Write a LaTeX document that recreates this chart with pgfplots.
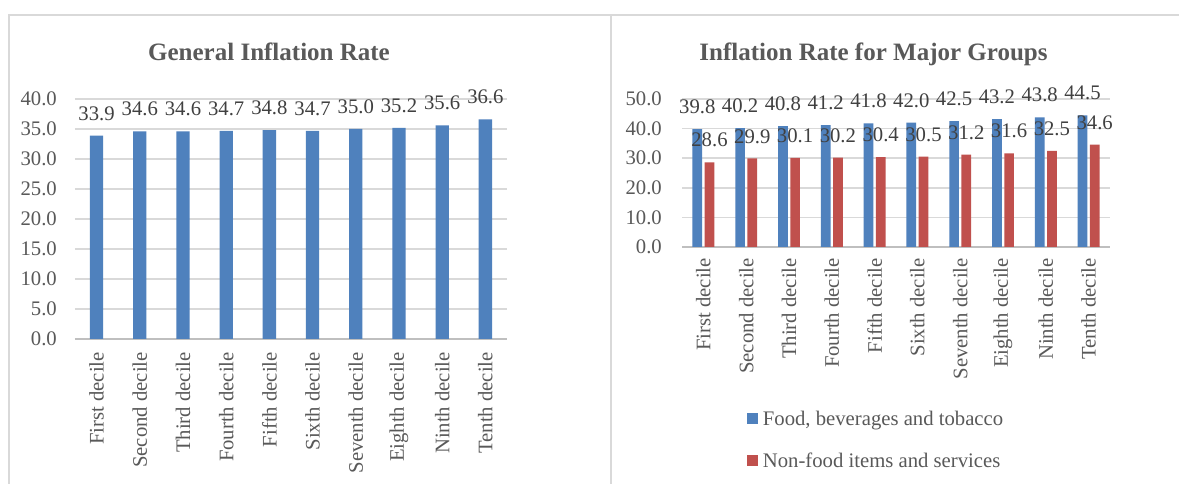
\documentclass[border=0pt]{standalone}
\usepackage{pgfplots}
\pgfplotsset{compat=1.18}
\usepackage{fontspec}
\setmainfont{Liberation Serif}
\definecolor{barblue}{HTML}{4F81BD}
\definecolor{barred}{HTML}{C0504D}
\definecolor{txtgray}{HTML}{595959}
\definecolor{lblgray}{HTML}{404040}
\definecolor{gridgray}{HTML}{D9D9D9}
\definecolor{axgray}{HTML}{BFBFBF}
\definecolor{border}{HTML}{D9D9D9}
\newcommand{\MainFont}{\fontsize{20.7}{24}\selectfont}
\newcommand{\TitleFont}{\fontsize{25}{30}\selectfont\bfseries}
\pgfplotsset{
  infl/.style={
    scale only axis,
    anchor=south west,
    xmin=-0.5, xmax=9.5,
    ymin=0,
    xtick={0,...,9},
    xticklabels={First decile,Second decile,Third decile,Fourth decile,Fifth decile,Sixth decile,Seventh decile,Eighth decile,Ninth decile,Tenth decile},
    ymajorgrids,
    grid style={gridgray, line width=1.6pt},
    axis x line=bottom,
    axis y line=left,
    axis line style={-},
    x axis line style={axgray, line width=1.6pt},
    y axis line style={draw=none},
    major tick length=0pt,
    tick label style={font=\MainFont, text=txtgray},
    /pgf/number format/assume math mode=true,
    yticklabel style={anchor=east, inner sep=0pt, /pgf/number format/fixed, /pgf/number format/fixed zerofill, /pgf/number format/precision=1},
    xticklabel style={rotate=90, anchor=east, inner sep=0pt},
    nodes near coords,
    nodes near coords style={font=\MainFont, text=lblgray, anchor=south, inner sep=0pt, yshift=15pt,
      /pgf/number format/fixed, /pgf/number format/fixed zerofill, /pgf/number format/precision=1},
    clip=false,
  }
}
\begin{document}
\begin{tikzpicture}
\useasboundingbox (0pt,0pt) rectangle (1179pt,484pt);
\fill[white] (0pt,0pt) rectangle (1179pt,484pt);
% panel borders
\draw[border, line width=2pt] (8.5pt,0pt) -- (8.5pt,469pt) -- (1179pt,469pt);
\draw[border, line width=2.5pt] (611pt,0pt) -- (611pt,469pt);
% left chart
\begin{axis}[infl,
  at={(75pt,145pt)},
  width=432pt, height=240pt,
  ymax=40, ytick={0,5,...,40},
  bar width=13.3pt,
  yticklabel style={xshift=-18pt},
  xticklabel shift=13pt,
]
\addplot[ybar, fill=barblue, draw=none] coordinates {
(0,33.9) (1,34.6) (2,34.6) (3,34.7) (4,34.8) (5,34.7) (6,35.0) (7,35.2) (8,35.6) (9,36.6)};
\end{axis}
\node[font=\TitleFont, text=txtgray, anchor=base] at (269pt,423pt) {General Inflation Rate};
% right chart
\begin{axis}[infl,
  at={(682pt,237pt)},
  width=428pt, height=148pt,
  ymax=50, ytick={0,10,...,50},
  ybar=2.5pt, bar width=9.7pt,
  yticklabel style={xshift=-20pt},
  xticklabel shift=11pt,
  legend style={draw=none, fill=none, at={(0.151,-1.113)}, anchor=north west,
    inner sep=0pt, outer sep=0pt, row sep=23pt, column sep=5.3pt,
    nodes={inner sep=0pt, text height=14pt, text depth=5pt, text=txtgray, font=\MainFont}},
  legend cell align=left,
  legend image code/.code={\fill[#1] (0pt,-2.5pt) rectangle (11pt,8.5pt);},
]
\addplot[fill=barblue, draw=none] coordinates {
(0,39.8) (1,40.2) (2,40.8) (3,41.2) (4,41.8) (5,42.0) (6,42.5) (7,43.2) (8,43.8) (9,44.5)};
\addplot[fill=barred, draw=none] coordinates {
(0,28.6) (1,29.9) (2,30.1) (3,30.2) (4,30.4) (5,30.5) (6,31.2) (7,31.6) (8,32.5) (9,34.6)};
\legend{{Food, beverages and tobacco}, {Non-food items and services}}
\end{axis}
\node[font=\TitleFont, text=txtgray, anchor=base] at (873.5pt,423pt) {Inflation Rate for Major Groups};
\end{tikzpicture}
\end{document}
